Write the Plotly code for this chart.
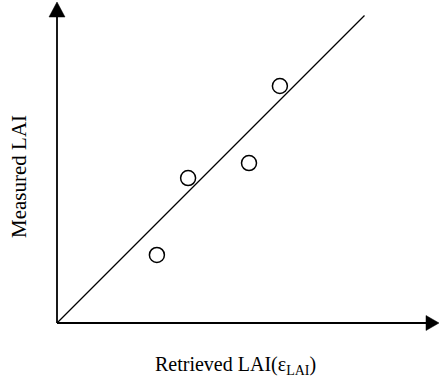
import plotly.graph_objects as go

# Data (abstract LAI units)
retrieved_lai = [3.33, 4.37, 6.4, 7.43]
measured_lai = [2.27, 4.83, 5.33, 7.9]
line_end = [0, 10.25]
x_label = "Retrieved LAI(ε<sub>LAI</sub>)"
y_label = "Measured LAI"

W, H = 440, 379
L, B = 57, 56          # pixel position of the origin (from left, from bottom)
S = 30.0               # px per unit
xmin, xmax = -L / S, (W - L) / S
ymin, ymax = -B / S, (H - B) / S
FAMILY = "Liberation Serif, Times New Roman, serif"
XFONT = dict(family=FAMILY, size=20, color="black")
YFONT = dict(family=FAMILY, size=21, color="black")

fig = go.Figure()

# 1:1 line
fig.add_trace(go.Scatter(x=[line_end[0], line_end[1]], y=[line_end[0], line_end[1]],
                         mode="lines", line=dict(color="black", width=1.3),
                         hoverinfo="skip", showlegend=False))
# points
fig.add_trace(go.Scatter(x=retrieved_lai, y=measured_lai, mode="markers",
                         marker=dict(symbol="circle-open", size=15, color="black",
                                     line=dict(width=1.5, color="black")),
                         showlegend=False))

# axis arrows
ytip = ymax - 2 / S
ybase = ytip - 15 / S
xtip = xmax - 1 / S
xbase = xtip - 13 / S
hw = 8 / S
hh = 7.5 / S
shapes = [
    dict(type="line", x0=0, y0=0, x1=0, y1=ybase + 1 / S, xref="x", yref="y",
         line=dict(color="black", width=1.8)),
    dict(type="line", x0=0, y0=0, x1=xbase + 1 / S, y1=0, xref="x", yref="y",
         line=dict(color="black", width=1.8)),
    dict(type="path", xref="x", yref="y",
         path=f"M{-hw},{ybase} L{hw},{ybase} L0,{ytip} Z",
         fillcolor="black", line=dict(color="black", width=0.5)),
    dict(type="path", xref="x", yref="y",
         path=f"M{xbase},{-hh} L{xbase},{hh} L{xtip},0 Z",
         fillcolor="black", line=dict(color="black", width=0.5)),
]

annotations = [
    dict(text=x_label, x=(235 - L) / S, y=-(365 - (H - B)) / S, xref="x", yref="y",
         showarrow=False, font=XFONT, xanchor="center", yanchor="middle"),
    dict(text=y_label, x=(19 - L) / S, y=((H - B) - 177) / S, xref="x", yref="y",
         showarrow=False, font=YFONT, textangle=-90, xanchor="center", yanchor="middle"),
]

fig.update_layout(
    width=W, height=H,
    margin=dict(l=0, r=0, t=0, b=0, pad=0),
    paper_bgcolor="white", plot_bgcolor="white",
    xaxis=dict(range=[xmin, xmax], visible=False, fixedrange=True),
    yaxis=dict(range=[ymin, ymax], visible=False, fixedrange=True),
    shapes=shapes, annotations=annotations,
    showlegend=False,
)

fig.write_html("out.html", config={"displayModeBar": False, "staticPlot": True},
               post_script="document.body.style.margin='0px';")
